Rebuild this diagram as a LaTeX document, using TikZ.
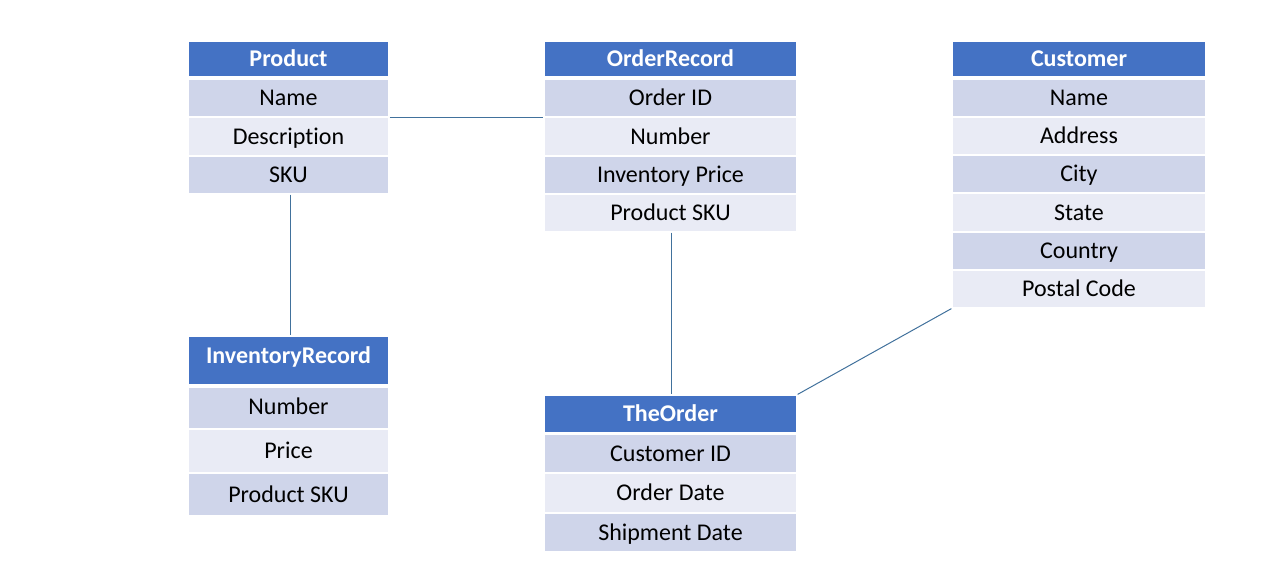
\documentclass[tikz,border=0pt]{standalone}
\usepackage{fontspec}
\setmainfont{Carlito}[Ligatures={NoCommon}]
\definecolor{hdrblue}{HTML}{4472C4}
\definecolor{rowdark}{HTML}{CFD5EA}
\definecolor{rowlight}{HTML}{E9EBF5}
\definecolor{linkcol}{HTML}{41719C}
\tikzset{
  cell/.style={inner sep=0pt, draw=white, line width=1.2pt, text height=19.2pt, text depth=3.7pt, font=\fontsize{24}{28}\selectfont},
  hdr/.style={cell, fill=hdrblue, text=white, font=\fontsize{24}{28}\selectfont\bfseries},
  rowd/.style={cell, fill=rowdark, text=black},
  rowl/.style={cell, fill=rowlight, text=black},
  link/.style={draw=linkcol, line width=1pt}
}
% \cellbox{name}{style}{x1}{y1}{x2}{y2}{text}
\newcommand{\cellbox}[7]{%
  \node[#2, minimum width={(#5-#3)*1pt}, minimum height={(#6-#4)*1pt}]
    (#1) at ({(#3+#5)/2},{(#4+#6)/2}) {#7};}
\begin{document}
\begin{tikzpicture}[x=1pt,y=-1pt]
\useasboundingbox (0,0) rectangle (1279,582);
% Product
\cellbox{ph}{hdr}{188}{41}{389}{77}{Product}
\cellbox{p1}{rowd}{188}{79}{389}{117}{Name}
\cellbox{p2}{rowl}{188}{117}{389}{156}{Description}
\cellbox{p3}{rowd}{188}{156}{389}{194}{SKU}
% OrderRecord
\cellbox{oh}{hdr}{544}{41}{797}{77}{OrderRecord}
\cellbox{o1}{rowd}{544}{79}{797}{117}{Order ID}
\cellbox{o2}{rowl}{544}{117}{797}{156}{Number}
\cellbox{o3}{rowd}{544}{156}{797}{194}{Inventory Price}
\cellbox{o4}{rowl}{544}{194}{797}{232}{Product SKU}
% Customer
\cellbox{ch}{hdr}{952}{41}{1206}{77}{Customer}
\cellbox{c1}{rowd}{952}{79}{1206}{117}{Name}
\cellbox{c2}{rowl}{952}{117}{1206}{155}{Address}
\cellbox{c3}{rowd}{952}{155}{1206}{193}{City}
\cellbox{c4}{rowl}{952}{193}{1206}{232}{State}
\cellbox{c5}{rowd}{952}{232}{1206}{270}{Country}
\cellbox{c6}{rowl}{952}{270}{1206}{308}{Postal Code}
% InventoryRecord
\cellbox{ih}{hdr,text depth=13.7pt}{188}{336}{389}{385}{InventoryRecord}
\cellbox{i1}{rowd,text depth=7pt}{188}{387}{389}{429}{Number}
\cellbox{i2}{rowl}{188}{429}{389}{473}{Price}
\cellbox{i3}{rowd}{188}{473}{389}{516}{Product SKU}
% TheOrder
\cellbox{th}{hdr}{544}{395}{797}{433}{TheOrder}
\cellbox{t1}{rowd}{544}{434}{797}{473}{Customer ID}
\cellbox{t2}{rowl}{544}{473}{797}{513}{Order Date}
\cellbox{t3}{rowd}{544}{513}{797}{552}{Shipment Date}
% connectors
\draw[link] (p1.south east) -- (o1.south west);
\draw[link] ([xshift=1.5pt]p3.south) -- ([xshift=1.5pt]ih.north);
\draw[link] ([xshift=1pt]o4.south) -- ([xshift=1pt]th.north);
\draw[link] (c6.south west) -- (th.north east);
\end{tikzpicture}
\end{document}
